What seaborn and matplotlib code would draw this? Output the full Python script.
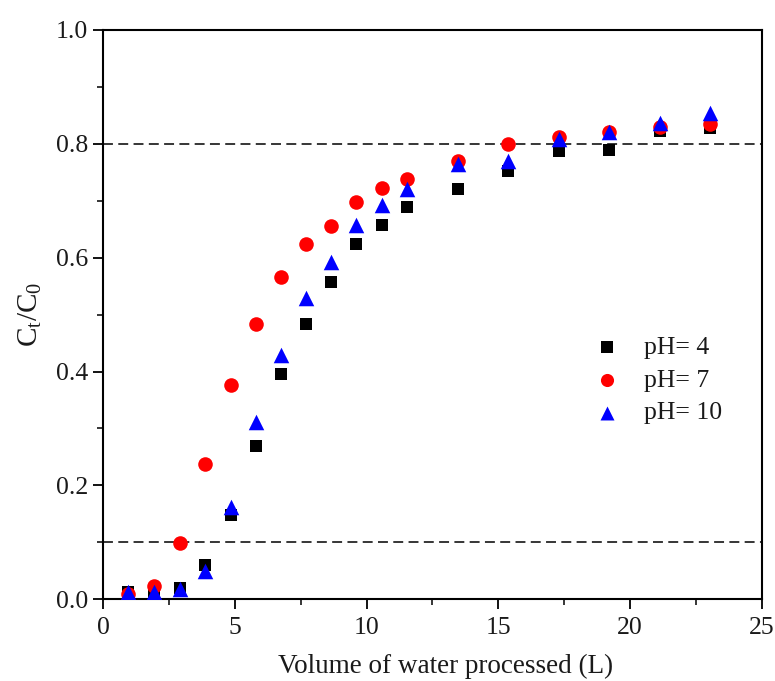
import numpy as np
import pandas as pd
import matplotlib
matplotlib.use("Agg")
import matplotlib.pyplot as plt
import seaborn as sns
from matplotlib.ticker import MultipleLocator, FormatStrFormatter

sns.set_theme(style="white")
plt.rcParams["font.family"] = ["Liberation Serif", "DejaVu Serif"]
plt.rcParams["mathtext.fontset"] = "custom"
plt.rcParams["mathtext.rm"] = "Liberation Serif"
plt.rcParams["mathtext.it"] = "Liberation Serif"

# Volume of water processed (L)
volume = [0.95, 1.93, 2.92, 3.87, 4.86, 5.80, 6.75, 7.70, 8.65, 9.60,
          10.58, 11.53, 13.47, 15.36, 17.30, 19.20, 21.13, 23.03]

# Breakthrough ratio Ct/C0 at each pH
ph4 = [0.012, 0.010, 0.020, 0.060, 0.148, 0.270, 0.395, 0.483, 0.557, 0.624,
       0.657, 0.689, 0.720, 0.753, 0.788, 0.790, 0.822, 0.827]
ph7 = [0.010, 0.023, 0.098, 0.237, 0.377, 0.483, 0.566, 0.624, 0.656, 0.697,
       0.722, 0.738, 0.770, 0.800, 0.812, 0.820, 0.830, 0.835]
ph10 = [0.012, 0.012, 0.018, 0.050, 0.162, 0.311, 0.429, 0.529, 0.592, 0.657,
        0.693, 0.721, 0.764, 0.770, 0.808, 0.820, 0.836, 0.855]

series_labels = ["pH= 4", "pH= 7", "pH= 10"]
colors = {"pH= 4": "black", "pH= 7": "#ff0000", "pH= 10": "#0000ff"}
markers = {"pH= 4": "s", "pH= 7": "o", "pH= 10": "^"}
sizes = {"pH= 4": 80, "pH= 7": 110, "pH= 10": 125}

df = pd.concat([
    pd.DataFrame({"volume": volume, "ratio": vals, "series": lab})
    for vals, lab in zip([ph4, ph7, ph10], series_labels)
], ignore_index=True)

fig = plt.figure(figsize=(7.75, 6.81), dpi=100)
ax = fig.add_axes([0.133, 0.12, 0.85, 0.836])

for lab in series_labels:
    sub = df[df["series"] == lab]
    sns.scatterplot(data=sub, x="volume", y="ratio", ax=ax, color=colors[lab],
                    marker=markers[lab], s=sizes[lab], linewidth=0,
                    label=lab, zorder=3)

# Reference levels
for level in (0.8, 0.1):
    ax.axhline(level, color="black", linestyle=(0, (6.5, 3.5)), linewidth=1.1, zorder=2)

ax.set_xlim(0, 25)
ax.set_ylim(0, 1.0)
ax.xaxis.set_major_locator(MultipleLocator(5))
ax.xaxis.set_minor_locator(MultipleLocator(2.5))
ax.yaxis.set_major_locator(MultipleLocator(0.2))
ax.yaxis.set_minor_locator(MultipleLocator(0.1))
ax.yaxis.set_major_formatter(FormatStrFormatter("%.1f"))

ax.tick_params(which="major", direction="out", length=7.5, width=1.3,
               labelsize=18.5, color="black", labelcolor="#1a1a1a",
               bottom=True, left=True, top=False, right=False)
ax.tick_params(axis="x", which="major", pad=5.5)
ax.tick_params(axis="y", which="major", pad=3.5)
ax.tick_params(which="minor", direction="out", length=4, width=1.1,
               color="black", bottom=True, left=True, top=False, right=False)

for sp in ax.spines.values():
    sp.set_color("black")
    sp.set_linewidth(1.5)

ax.set_xlabel("Volume of water processed (L)", fontsize=19.5, color="#1a1a1a")
ax.set_ylabel(r"C$_\mathregular{t}$/C$_\mathregular{0}$", fontsize=21, color="#1a1a1a")
ax.xaxis.set_label_coords(0.52, -0.095)
ax.yaxis.set_label_coords(-0.09, 0.5)

leg = ax.legend(loc="center left", bbox_to_anchor=(0.745, 0.385), frameon=False,
                fontsize=18.5, handlelength=1.0, handletextpad=0.97,
                labelspacing=0.38, borderpad=0.0, borderaxespad=0.0,
                markerscale=0.9)
for t in leg.get_texts():
    t.set_color("#1a1a1a")

fig.savefig("out.png", dpi=100)
